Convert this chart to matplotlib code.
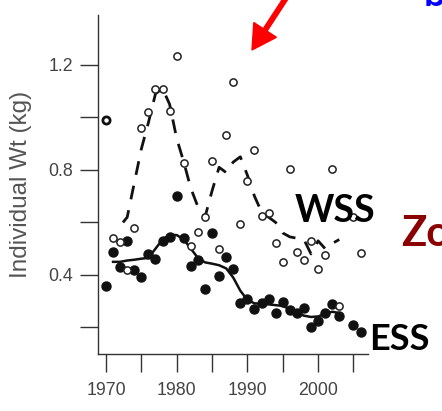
import matplotlib
matplotlib.use("Agg")
import matplotlib.pyplot as plt
from matplotlib.patches import FancyArrow
from matplotlib.transforms import IdentityTransform

# western stock, yearly mean weight (open circles)
wss_years = [1970, 1971, 1972, 1973, 1974, 1975, 1976, 1977, 1978, 1979,
             1980, 1981, 1982, 1983, 1984, 1985, 1986, 1987, 1988, 1989,
             1990, 1991, 1992, 1993, 1994, 1995, 1996, 1997, 1998, 1999,
             2000, 2001, 2002, 2003, 2005, 2006]
wss_wt = [0.99, 0.54, 0.525, 0.42, 0.58, 0.96, 1.02, 1.11, 1.11, 1.025,
          1.235, 0.827, 0.51, 0.565, 0.62, 0.833, 0.50, 0.934, 1.134, 0.595,
          0.757, 0.874, 0.625, 0.637, 0.521, 0.45, 0.805, 0.489, 0.458, 0.528,
          0.423, 0.476, 0.803, 0.28, 0.62, 0.485]

# eastern stock, yearly mean weight (filled circles)
ess_years = [1970, 1971, 1972, 1973, 1974, 1975, 1976, 1977, 1978, 1979,
             1980, 1981, 1982, 1983, 1984, 1985, 1986, 1987, 1988, 1989,
             1990, 1991, 1992, 1993, 1994, 1995, 1996, 1997, 1998, 1999,
             2000, 2001, 2002, 2003, 2005, 2006]
ess_wt = [0.357, 0.486, 0.429, 0.531, 0.42, 0.394, 0.48, 0.46, 0.528, 0.545,
          0.70, 0.54, 0.434, 0.457, 0.348, 0.561, 0.396, 0.467, 0.422, 0.292,
          0.307, 0.269, 0.292, 0.307, 0.256, 0.298, 0.268, 0.255, 0.276, 0.203,
          0.226, 0.254, 0.288, 0.245, 0.21, 0.184]

# running means
wss_smooth_years = [1972.4, 1973, 1974, 1975, 1976, 1977, 1978, 1979, 1980,
                    1981, 1982, 1983, 1984, 1985, 1986, 1987, 1988, 1989,
                    1990, 1991, 1992, 1993, 1994, 1995, 1996, 1997, 1998,
                    1999, 2000, 2001, 2002, 2003]
wss_smooth = [0.60, 0.62, 0.75, 0.88, 0.98, 1.09, 1.11, 1.05, 0.92,
              0.83, 0.73, 0.66, 0.62, 0.72, 0.81, 0.79, 0.83, 0.85,
              0.78, 0.70, 0.64, 0.62, 0.60, 0.56, 0.545, 0.54, 0.535,
              0.48, 0.53, 0.50, 0.52, 0.535]

ess_smooth_years = [1971, 1972, 1973, 1974, 1975, 1976, 1977, 1978, 1979,
                    1980, 1981, 1982, 1983, 1984, 1985, 1986, 1987, 1988,
                    1989, 1990, 1991, 1992, 1993, 1994, 1995, 1996, 1997,
                    1998, 1999, 2000, 2001, 2002, 2003]
ess_smooth = [0.45, 0.45, 0.455, 0.458, 0.462, 0.465, 0.50, 0.535, 0.552,
              0.552, 0.535, 0.50, 0.465, 0.448, 0.443, 0.437, 0.425, 0.39,
              0.34, 0.305, 0.292, 0.29, 0.288, 0.285, 0.282, 0.27, 0.255,
              0.245, 0.24, 0.242, 0.252, 0.26, 0.255]

y_ticks = [0.2, 0.4, 0.6, 0.8, 1.0, 1.2]
y_labels = ["", "0.4", "", "0.8", "", "1.2"]
x_ticks = [1970, 1975, 1980, 1985, 1990, 1995, 2000, 2005]
x_labels = ["1970", "", "1980", "", "1990", "", "2000", ""]

plt.rcParams["font.family"] = ["Liberation Sans", "DejaVu Sans"]

fig = plt.figure(figsize=(4.42, 4.11), dpi=100)
ax = fig.add_axes([98 / 442, 57 / 411, 270 / 442, 339 / 411])

ax.plot(wss_smooth_years, wss_smooth, color="#111111", lw=2.0,
        dashes=(5, 4), zorder=2)
ax.plot(ess_smooth_years, ess_smooth, color="#111111", lw=1.8, zorder=2)

ax.plot(ess_years, ess_wt, "o", ms=6.5, color="#111111", mec="#111111",
        zorder=3)
ax.plot(wss_years, wss_wt, "o", ms=5.2, mfc="white", mec="#222222",
        mew=1.1, zorder=4)
# the 1970 value is printed heavier
ax.plot(wss_years[:1], wss_wt[:1], "o", ms=5.2, mfc="white", mec="#111111",
        mew=2.0, zorder=4)

ax.set_xlim(1968.87, 2007.06)
ax.set_ylim(0.099, 1.39)
ax.set_xticks(x_ticks)
ax.set_xticklabels(x_labels)
ax.set_yticks(y_ticks)
ax.set_yticklabels(y_labels)

for side in ["top", "right"]:
    ax.spines[side].set_visible(False)
for side in ["left", "bottom"]:
    ax.spines[side].set_color("#333333")
    ax.spines[side].set_linewidth(1.0)

ax.tick_params(axis="both", direction="out", length=13, width=1.0,
               color="#333333", labelcolor="#444444", labelsize=12.8)
ax.tick_params(axis="x", pad=7)
ax.tick_params(axis="y", pad=5)
ax.set_ylabel("Individual Wt (kg)", fontsize=17.5, color="#555555",
              labelpad=12)

# slide annotations
fig.text(295 / 442, 1 - 222 / 411, "WSS", fontsize=27, fontweight="bold",
         family="Lato", color="black")
fig.text(369 / 442, 1 - 350 / 411, "ESS", fontsize=26, fontweight="bold",
         family="Lato", color="black")
fig.text(401 / 442, 1 - 246 / 411, "Zo", fontsize=30, fontweight="bold",
         family="Lato", color="#8b0000")
fig.text(424 / 442, 1 - 6 / 411, "b", fontsize=28, fontweight="bold",
         family="Lato", color="#0000ff")

arrow = FancyArrow(286, 413, -34, -52, width=4.5, head_width=27,
                   head_length=24, length_includes_head=True,
                   color="#ff0000", transform=IdentityTransform())
fig.add_artist(arrow)

fig.savefig("out.png", dpi=100)
